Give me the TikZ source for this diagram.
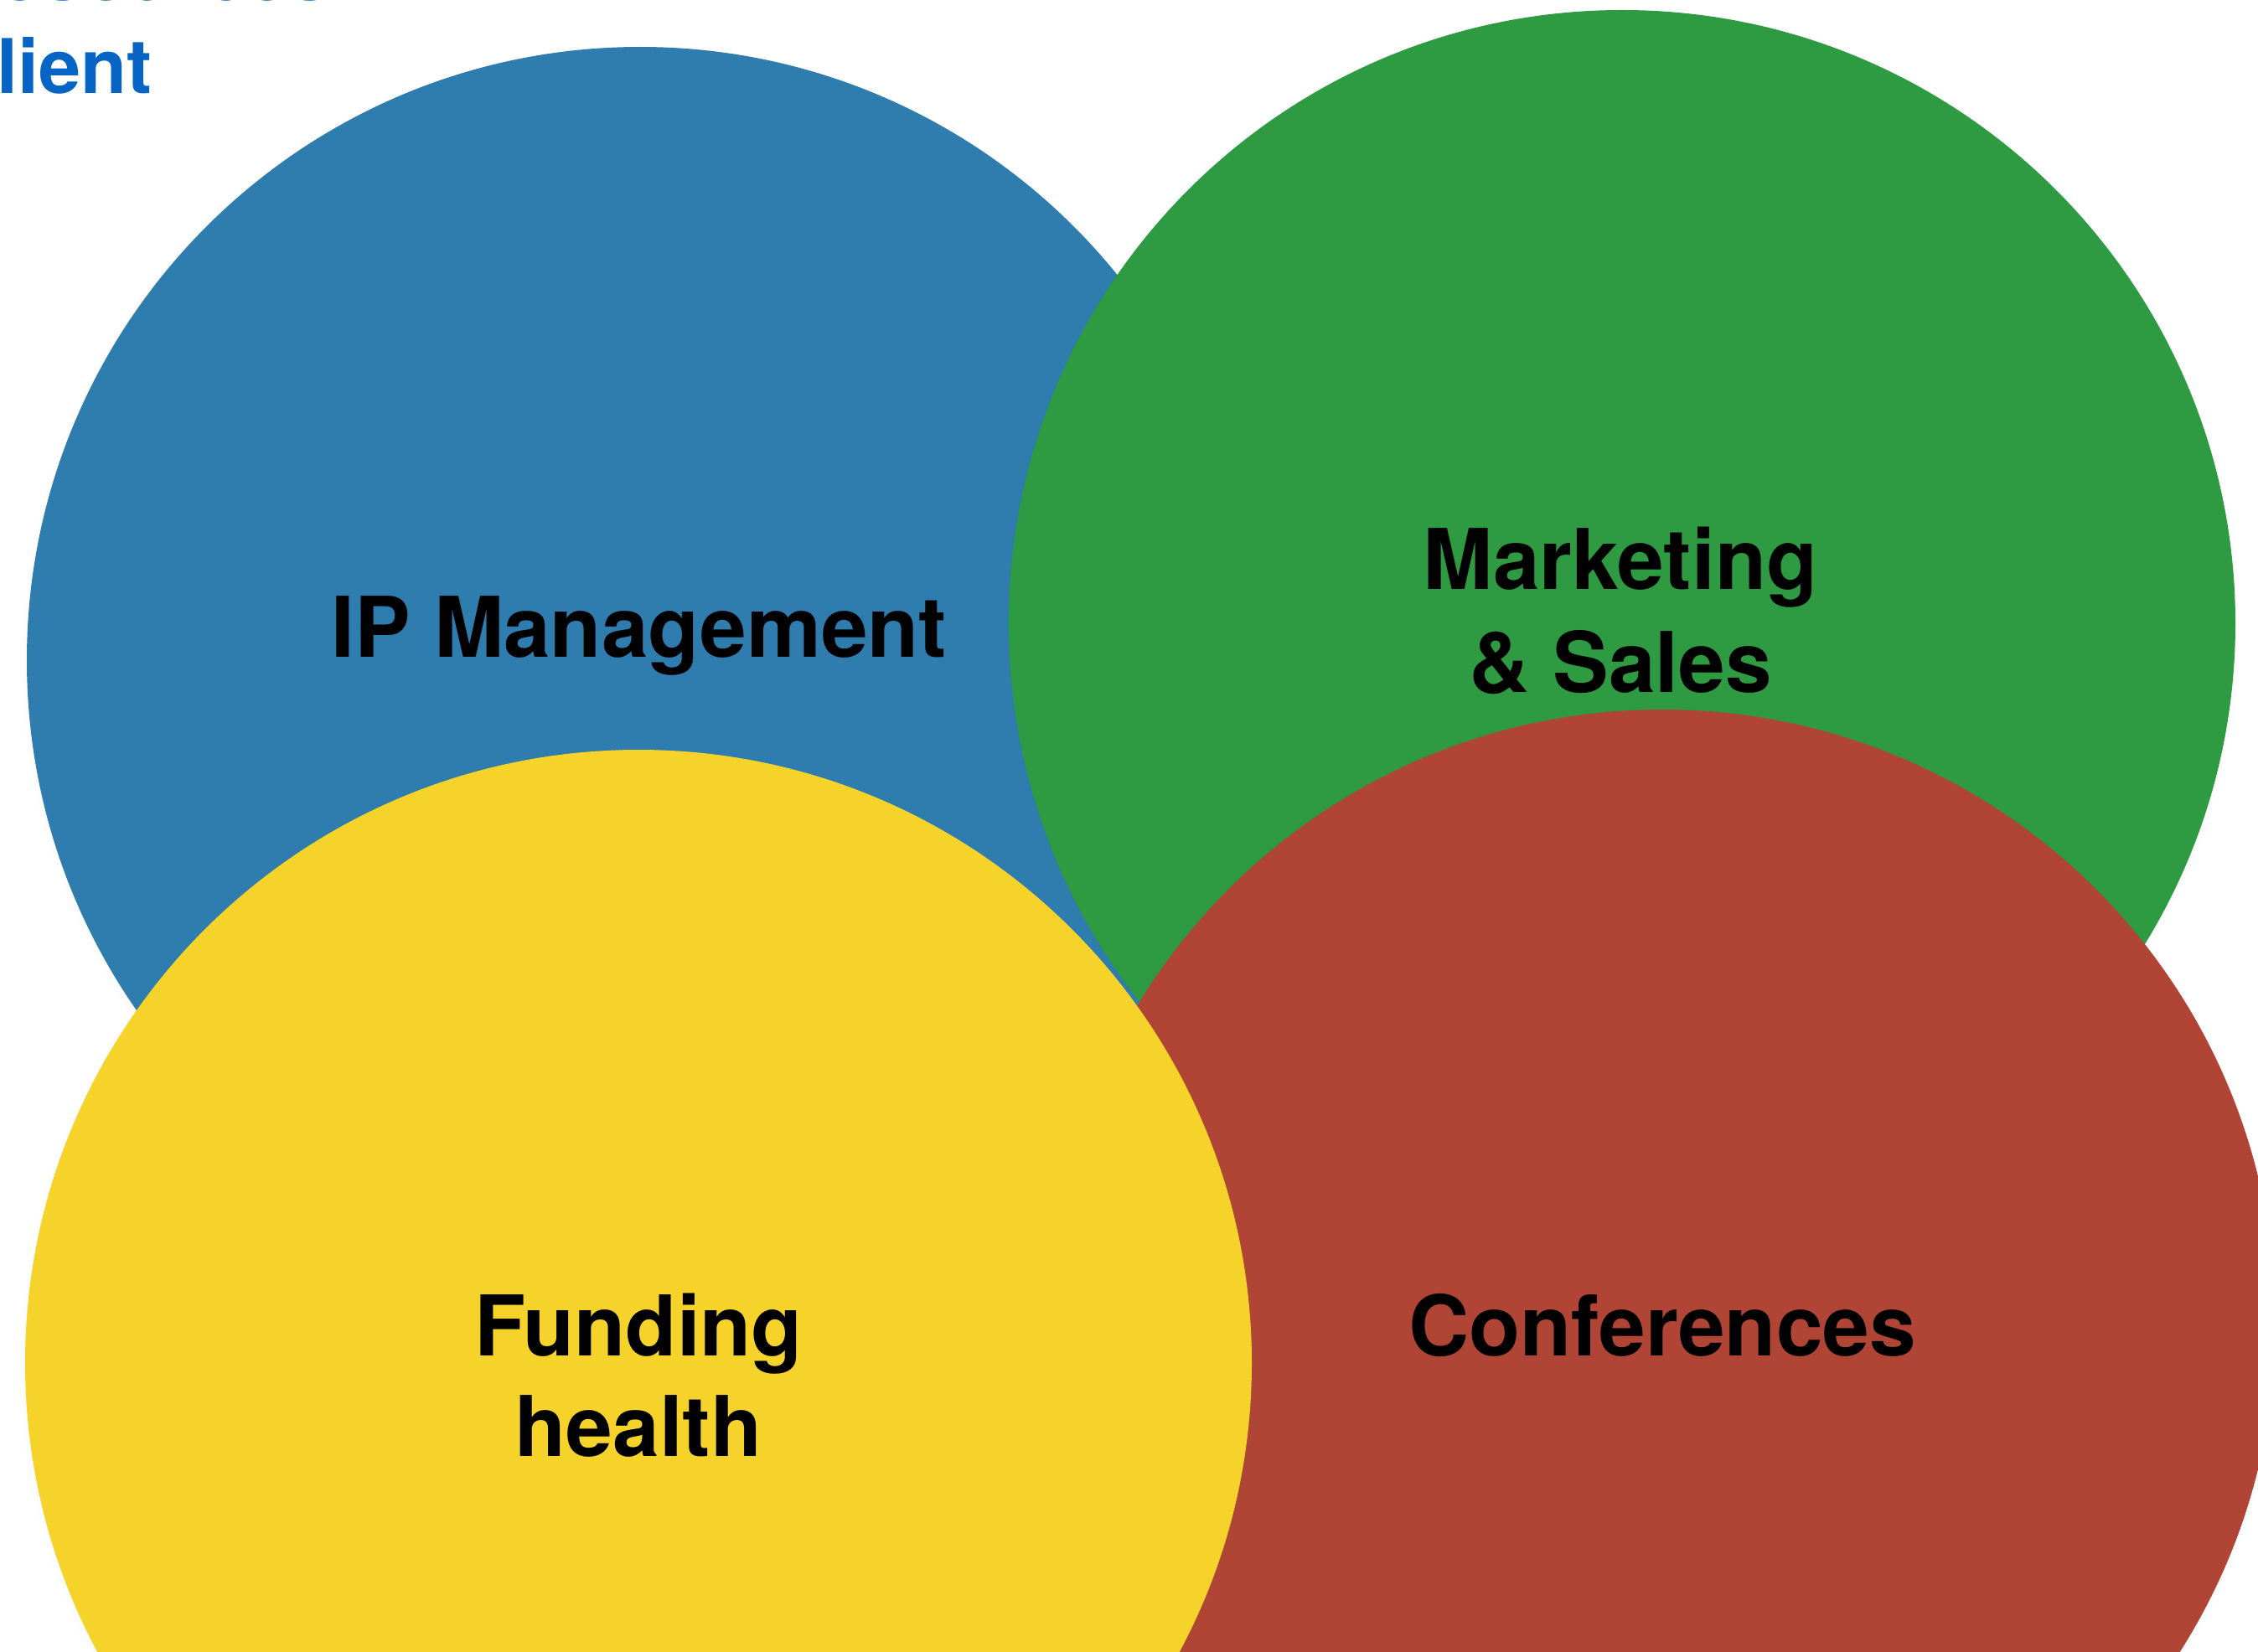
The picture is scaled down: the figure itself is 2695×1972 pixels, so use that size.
\documentclass[tikz,border=0pt]{standalone}
\usepackage{fontspec}
\setmainfont{TeX Gyre Heros}
\usetikzlibrary{shadows}
\definecolor{cblue}{RGB}{46,125,174}
\definecolor{cgreen}{RGB}{46,154,66}
\definecolor{cred}{RGB}{176,69,53}
\definecolor{cyellow}{RGB}{245,211,43}
\definecolor{ctitle}{RGB}{6,100,196}
\tikzset{
  disc/.style={circle, inner sep=0pt, minimum size=1464pt, fill=#1,
    circular drop shadow={shadow scale=1.008, shadow xshift=0pt, shadow yshift=-3pt, opacity=0.35}},
  lbl/.style={anchor=base, inner sep=0pt, font=\fontsize{100}{123}\selectfont\bfseries, text=black},
  ttl/.style={anchor=base west, inner sep=0pt, font=\fontsize{90}{108}\selectfont\bfseries, text=ctitle}
}
\begin{document}
\begin{tikzpicture}[x=1pt,y=-1pt]
\useasboundingbox (0,0) rectangle (2695,1972);
\begin{scope}
\clip (0,0) rectangle (2695,1972);
\fill[white] (0,0) rectangle (2695,1972);
\node[ttl] (t1) at (-66,1) {Resources};
\node[ttl] (t2) at (-69,112) {Client};
\node[disc=cblue]   (ip)   at (764,788)   {};
\node[disc=cgreen]  (mkt)  at (1936,744)  {};
\node[disc=cred]    (conf) at (1984,1579) {};
\node[disc=cyellow] (fund) at (762,1627)  {};
\node[lbl] (lip) at (763,784) {IP Management};
\node[lbl] (lmk1) at (1934,703) {Marketing};
\node[lbl] (lmk2) at (1934,826) {\& Sales};
\node[lbl] (lfu1) at (762,1618) {Funding};
\node[lbl] (lfu2) at (762,1738) {health};
\node[lbl] (lco) at (1984,1618) {Conferences};
\end{scope}
\end{tikzpicture}
\end{document}
